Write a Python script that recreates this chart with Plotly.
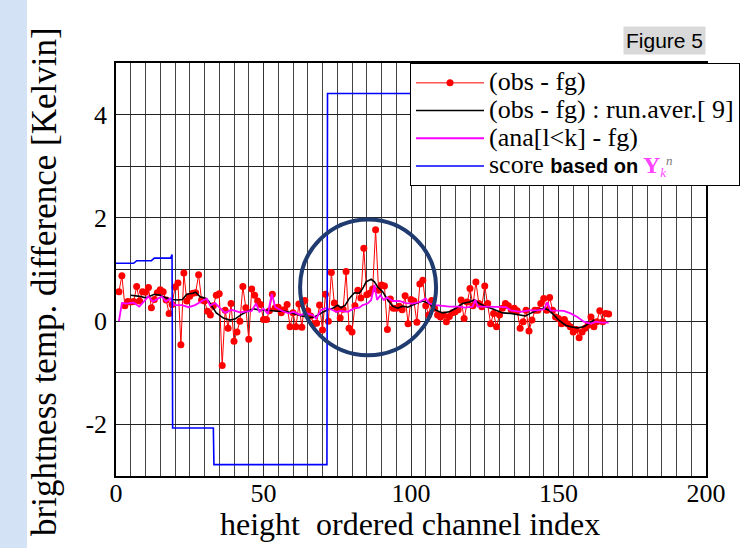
import plotly.graph_objects as go

# ---------------- data ----------------
channels = list(range(1, 168))
obs_fg = [
    0.57, 0.88, 0.30, 0.38, 0.37, 0.38, 0.67, 0.39, 0.57, 0.56,
    0.65, 0.26, 0.42, 0.55, 0.61, 0.57, 0.41, 0.15, 0.32, 0.66,
    0.74, -0.46, 0.93, 0.39, 0.48, 0.54, 0.55, 0.90, 0.41, 0.39,
    0.19, 0.12, 0.30, 0.50, 0.53, -0.86, 0.21, -0.14, 0.34, -0.39,
    -0.21, 0.00, 0.67, 0.26, -0.35, 0.62, 0.50, 0.39, 0.32, 0.03,
    0.03, 0.20, 0.52, 0.26, 0.27, 0.16, 0.22, 0.32, -0.11, 0.16,
    -0.11, 0.33, -0.12, 0.40, 0.20, 0.10, -0.05, -0.04, 0.31, -0.17,
    0.52, 0.00, 0.94, 0.35, 0.23, 0.06, 0.23, 0.96, -0.14, -0.21,
    0.30, 0.60, 0.45, 1.41, 0.51, 0.54, 0.62, 1.77, 0.60, 0.70,
    0.68, -0.16, 0.43, 0.25, 0.25, 0.29, 0.22, 0.49, -0.05, 0.42,
    0.39, -0.02, 0.72, 0.79, 0.30, 0.12, 0.40, 0.25, 0.12, 0.08,
    0.12, -0.01, 0.09, 0.16, 0.18, 0.22, 0.41, 0.05, 0.37, 0.63,
    0.30, 0.76, 0.34, 0.28, 0.68, 0.34, -0.05, 0.15, -0.11, 0.12,
    0.25, 0.34, 0.30, 0.21, 0.25, 0.20, -0.14, -0.01, 0.21, -0.19,
    0.02, 0.21, 0.21, 0.34, 0.44, 0.21, 0.46, 0.21, 0.08, 0.05,
    -0.05, 0.03, -0.05, -0.11, -0.21, -0.16, -0.32, -0.21, -0.14, -0.08,
    0.08, -0.11, -0.01, 0.20, -0.01, 0.15, 0.14,
]

runavg_x = [5, 8, 10, 12, 13, 15, 17, 19, 21, 22.5, 24, 26, 27, 28.5, 30.5, 31.5,
            33, 34, 36.4, 38.6, 40.3, 42.6, 44.9, 46.6, 48.8, 51.6, 54.5, 57.3,
            60.1, 63, 65.8, 67.3, 70, 71.8, 73.5, 75.2, 76.3, 77.7, 79.1, 80.8,
            82.5, 83.6, 84.8, 86.5, 87.6, 88.7, 90.4, 92.1, 93.8, 95.5, 97.2,
            98.9, 101.7, 104, 106.2, 108.5, 110.7, 113, 115.2, 117.5, 119.8,
            121.5, 123.2, 125.4, 127.1, 128.8, 131.1, 133.8, 136.6, 138.8,
            140.5, 142.8, 145.1, 146.8, 148.4, 150.1, 152.4, 154.1, 156.4,
            158.6, 160.3, 162.2]
runavg_y = [0.50, 0.48, 0.45, 0.50, 0.52, 0.50, 0.45, 0.42, 0.41, 0.42, 0.52, 0.54,
            0.56, 0.47, 0.44, 0.38, 0.26, 0.16, 0.06, 0.02, 0.04, 0.13, 0.20, 0.24,
            0.21, 0.21, 0.19, 0.19, 0.15, 0.10, 0.07, 0.08, 0.17, 0.22, 0.25, 0.31,
            0.26, 0.31, 0.44, 0.55, 0.54, 0.63, 0.76, 0.81, 0.76, 0.66, 0.57, 0.41,
            0.29, 0.25, 0.29, 0.27, 0.34, 0.39, 0.34, 0.21, 0.16, 0.18, 0.25, 0.34,
            0.37, 0.41, 0.34, 0.28, 0.25, 0.21, 0.16, 0.15, 0.12, 0.10, 0.15, 0.21,
            0.25, 0.21, 0.12, 0.02, -0.08, -0.11, -0.13, -0.11, -0.05, 0.03]

ana_x = [1, 2, 3.6, 5.9, 7.9, 9.3, 11, 12.5, 13.8, 15.5, 16.9, 18.4, 19.8, 22.4,
         24.6, 26.8, 29.7, 30.8, 31.9, 33.6, 35.3, 37, 39.2, 42, 46, 47.5, 48.6,
         50, 51.5, 52.8, 54, 56.2, 58.5, 60.2, 62.4, 64.7, 66.7, 67.8, 69.5,
         71.2, 72.9, 74.6, 76.3, 78.6, 80.8, 82.5, 83.6, 85.3, 86.5, 87.6, 88.5,
         89.6, 90.8, 91.9, 93.8, 96, 98.3, 100.6, 102.8, 105, 106.2, 108.5, 113,
         116.4, 118.1, 120.9, 121.8, 122.6, 125.4, 128.8, 132.2, 133.8, 137.2,
         140, 142.8, 145.1, 146.2, 147.3, 149.6, 151.8, 154.1, 156.4, 158.6,
         160.9, 162.6, 164.8, 167]
ana_y = [0.0, 0.35, 0.34, 0.36, 0.28, 0.38, 0.48, 0.38, 0.43, 0.48, 0.38, 0.44,
         0.31, 0.31, 0.27, 0.31, 0.41, 0.43, 0.30, 0.35, 0.25, 0.16, 0.22, 0.17,
         0.20, 0.34, 0.18, 0.24, 0.14, 0.53, 0.27, 0.20, 0.15, 0.18, 0.12, 0.15,
         0.12, 0.05, 0.21, 0.25, 0.23, 0.18, 0.20, 0.18, 0.25, 0.26, 0.31, 0.34,
         0.41, 0.70, 0.41, 0.50, 0.41, 0.46, 0.39, 0.39, 0.35, 0.34, 0.37, 0.44,
         0.34, 0.31, 0.28, 0.28, 0.26, 0.28, 0.42, 0.28, 0.28, 0.28, 0.27, 0.21,
         0.18, 0.21, 0.21, 0.23, 0.37, 0.21, 0.21, 0.20, 0.15, 0.08, -0.01,
         -0.05, -0.01, -0.03, -0.03]

score_x = [0, 6, 7, 12, 13, 18.5, 19, 19.2, 33, 33.2, 71.5, 71.7, 167]
score_y = [1.12, 1.12, 1.17, 1.17, 1.22, 1.22, 1.29, -2.07, -2.07, -2.78, -2.78, 4.41, 4.41]

x_ticks = [0, 50, 100, 150, 200]
y_ticks = [-2, 0, 2, 4]
y_ticktext = ["-2", "0", "2", "4"]

# circle highlighting the peak region (data coordinates)
circle_x = [62.4, 108.5]
circle_y = [-0.66, 1.97]

SERIF = "Liberation Serif, Times New Roman, serif"
SANS = "Liberation Sans, Arial, sans-serif"


def big(s):
    return "<span style='font-size:26px'>" + s + "</span>"


fig = go.Figure()
fig.add_trace(go.Scatter(
    x=channels, y=obs_fg, mode="lines+markers", name=big("(obs - fg)"),
    line=dict(color="#ff0000", width=1),
    marker=dict(color="#ff0000", size=7, symbol="circle"),
))
fig.add_trace(go.Scatter(
    x=runavg_x, y=runavg_y, mode="lines", name=big("(obs - fg) : run.aver.[ 9]"),
    line=dict(color="#000000", width=1.6),
))
fig.add_trace(go.Scatter(
    x=ana_x, y=ana_y, mode="lines", name=big("(ana[l&lt;k] - fg)"),
    line=dict(color="#ff00ff", width=1.8),
))
fig.add_trace(go.Scatter(
    x=score_x, y=score_y, mode="lines",
    name=(big("score ")
          + "<span style='font-family:Liberation Sans, Arial;font-weight:bold;font-size:20px'>based on</span>"
          + " <span style='color:#ff44ff;font-weight:bold;font-size:24px'>Y</span>"
          + "<sub><span style='color:#ff44ff;font-style:italic;font-size:13px'>k</span></sub>"
          + "<sup><span style='color:#777;font-style:italic;font-size:13px'>n</span></sup>"),
    line=dict(color="#0000ff", width=1.6),
))

fig.add_shape(type="circle", xref="x", yref="y",
              x0=circle_x[0], x1=circle_x[1], y0=circle_y[0], y1=circle_y[1],
              line=dict(color="#1f3b6f", width=4), layer="above")

# light blue strip on the left of the page
fig.add_shape(type="rect", xref="paper", yref="paper",
              x0=-116 / 590, x1=-89 / 590, y0=-1, y1=2,
              fillcolor="#d4e2f6", line=dict(width=0), layer="below")

fig.add_annotation(text="Figure 5", xref="paper", yref="paper",
                   x=1.0, y=1 + 8 / 413, xanchor="right", yanchor="bottom",
                   showarrow=False, bgcolor="#d9d9d9",
                   font=dict(family=SANS, size=21, color="black"),
                   borderpad=2)

fig.add_annotation(text="height  ordered channel index", xref="paper", yref="paper",
                   x=(410 - 116) / 590, y=-(524 - 476) / 413, xanchor="center", yanchor="middle",
                   showarrow=False, font=dict(family=SERIF, size=32, color="black"))
fig.add_annotation(text="brightness temp. difference [Kelvin]", xref="paper", yref="paper",
                   x=-(116 - 44) / 590, y=(476 - 282) / 413, xanchor="center", yanchor="middle",
                   textangle=-90,
                   showarrow=False, font=dict(family=SERIF, size=35, color="black"))

fig.update_layout(
    width=743, height=548,
    margin=dict(l=116, r=37, t=63, b=72, autoexpand=False),
    paper_bgcolor="white", plot_bgcolor="white",
    font=dict(family=SERIF, size=24, color="black"),
    showlegend=True,
    legend=dict(
        xref="container", yref="container",
        x=410 / 743, y=1 - 63 / 548, xanchor="left", yanchor="top",
        bgcolor="white", bordercolor="black", borderwidth=1,
        font=dict(family=SERIF, size=19, color="black"),
        itemwidth=68, tracegroupgap=0,
    ),
    xaxis=dict(
        range=[0, 200], tickvals=x_ticks, showgrid=True, gridcolor="#333333", gridwidth=1.3,
        minor=dict(dtick=5, showgrid=True, gridcolor="#444444", gridwidth=1.4),
        zeroline=False, showline=True, linecolor="black", linewidth=1.5, mirror=True,
        ticks="", tickfont=dict(family=SERIF, size=26), ticklabelstandoff=-7,
    ),
    yaxis=dict(
        range=[-3, 5], tickvals=y_ticks, ticktext=y_ticktext, showgrid=True,
        gridcolor="#222222", gridwidth=1.2,
        minor=dict(dtick=1, showgrid=True, gridcolor="#222222", gridwidth=1.2),
        zeroline=False, showline=True, linecolor="black", linewidth=1.5, mirror=True,
        ticks="", tickfont=dict(family=SERIF, size=26), ticklabelstandoff=2,
    ),
)

fig.write_html("out.html", config={"displayModeBar": False},
               post_script="document.body.style.margin='0px';")
